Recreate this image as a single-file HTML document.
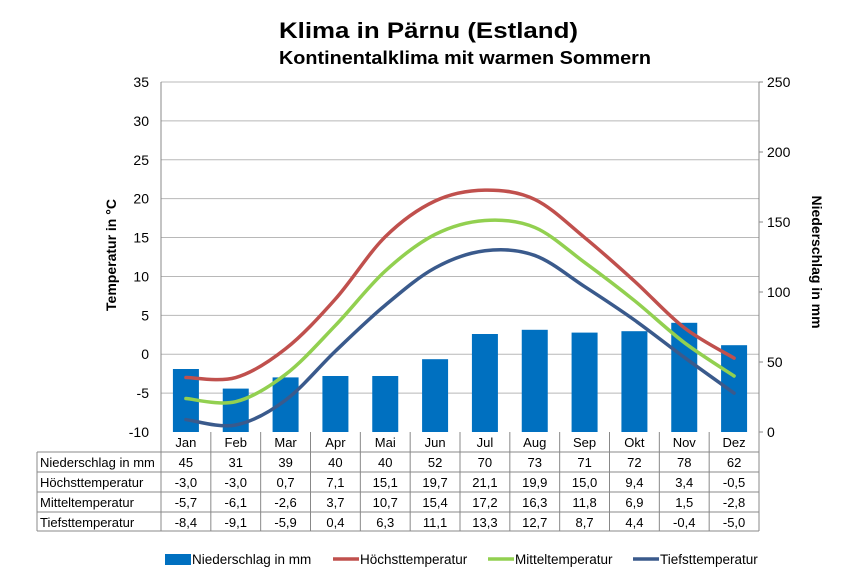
<!DOCTYPE html>
<html><head><meta charset="utf-8"><style>body{margin:0;background:#fff}svg{display:block}</style></head><body>
<svg width="848" height="588" xmlns="http://www.w3.org/2000/svg" font-family="Liberation Sans, Arial, sans-serif">
<rect width="848" height="588" fill="#fff"/>
<text x="279" y="38" font-size="22" font-weight="bold" textLength="299" lengthAdjust="spacingAndGlyphs">Klima in Pärnu (Estland)</text>
<text x="279" y="64" font-size="18" font-weight="bold" textLength="372" lengthAdjust="spacingAndGlyphs">Kontinentalklima mit warmen Sommern</text>
<g id="grid" stroke="#b8b8b8" stroke-width="1"></g>
<g id="bars" fill="#0070c0"></g>
<g id="lines" fill="none" stroke-width="3.5" stroke-linecap="round"></g>
<g id="axes" stroke="#888" stroke-width="1"></g>
<g id="lab" font-size="14" fill="#000"></g>
<text transform="translate(116,255) rotate(-90)" text-anchor="middle" font-size="14" font-weight="bold">Temperatur in °C</text>
<text transform="translate(812,262) rotate(90)" text-anchor="middle" font-size="14" font-weight="bold">Niederschlag in mm</text>
<g id="tab" font-size="13"></g>
<g font-size="13.5">
<rect x="165" y="554" width="26" height="11" fill="#0070c0"/><text x="192" y="564">Niederschlag in mm</text>
<line x1="333" y1="559" x2="359" y2="559" stroke="#c0504d" stroke-width="3.5"/><text x="360" y="564">Höchsttemperatur</text>
<line x1="488" y1="559" x2="514" y2="559" stroke="#92d050" stroke-width="3.5"/><text x="515" y="564">Mitteltemperatur</text>
<line x1="633" y1="559" x2="659" y2="559" stroke="#3a5a8c" stroke-width="3.5"/><text x="660" y="564">Tiefsttemperatur</text>
</g>
</svg>
<script>
const ns="http://www.w3.org/2000/svg";
function el(p,t,a,txt){const e=document.createElementNS(ns,t);for(const k in a)e.setAttribute(k,a[k]);if(txt!=null)e.textContent=txt;document.getElementById(p).appendChild(e);return e;}
const L=161,R=759,T=82,B=432,cw=(R-L)/12;
const ty=t=>B-(t+10)*350/45, py=m=>B-m*1.4;
for(let t=-10;t<=35;t+=5){const y=ty(t);if(t>-10)el('grid','line',{x1:L,x2:R,y1:y,y2:y});el('lab','text',{x:149,y:y+5,'text-anchor':'end'},t);}
for(let m=0;m<=250;m+=50){const y=py(m);el('axes','line',{x1:R,x2:R+4,y1:y,y2:y});el('lab','text',{x:767,y:y+5},m);}
el('axes','line',{x1:L,x2:L,y1:T,y2:B});el('axes','line',{x1:R,x2:R,y1:T,y2:B});
const mon=["Jan","Feb","Mar","Apr","Mai","Jun","Jul","Aug","Sep","Okt","Nov","Dez"];
const P=[45,31,39,40,40,52,70,73,71,72,78,62];
const H=[-3.0,-3.0,0.7,7.1,15.1,19.7,21.1,19.9,15.0,9.4,3.4,-0.5];
const M=[-5.7,-6.1,-2.6,3.7,10.7,15.4,17.2,16.3,11.8,6.9,1.5,-2.8];
const Tf=[-8.4,-9.1,-5.9,0.4,6.3,11.1,13.3,12.7,8.7,4.4,-0.4,-5.0];
const cx=i=>L+cw*(i+0.5);
P.forEach((v,i)=>el('bars','rect',{x:cx(i)-13,y:py(v),width:26,height:B-py(v)}));
function path(d){const p=d.map((v,i)=>[cx(i),ty(v)]);let s=`M${p[0][0]},${p[0][1]}`;
for(let i=0;i<p.length-1;i++){const p0=p[Math.max(i-1,0)],p1=p[i],p2=p[i+1],p3=p[Math.min(i+2,p.length-1)];
s+=` C${p1[0]+(p2[0]-p0[0])/6},${p1[1]+(p2[1]-p0[1])/6} ${p2[0]-(p3[0]-p1[0])/6},${p2[1]-(p3[1]-p1[1])/6} ${p2[0]},${p2[1]}`;}return s;}
el('lines','path',{d:path(H),stroke:'#c0504d'});
el('lines','path',{d:path(M),stroke:'#92d050'});
el('lines','path',{d:path(Tf),stroke:'#3a5a8c'});
const rows=[["Niederschlag in mm",P.map(String)],["Höchsttemperatur",H],["Mitteltemperatur",M],["Tiefsttemperatur",Tf]];
const fmt=v=>typeof v==='string'?v:v.toFixed(1).replace('.',',');
const ys=[432,452,472,492,512,531];
const g='#888';
for(let i=0;i<=12;i++){const x=L+cw*i;el('tab','line',{x1:x,x2:x,y1:432,y2:531,stroke:g});}
el('tab','line',{x1:37,x2:37,y1:452,y2:531,stroke:g});
for(let r=1;r<ys.length;r++)el('tab','line',{x1:37,x2:R,y1:ys[r],y2:ys[r],stroke:g});
mon.forEach((m,i)=>el('tab','text',{x:cx(i),y:447,'text-anchor':'middle'},m));
rows.forEach((r,k)=>{const y=ys[k+1]+15;el('tab','text',{x:40,y:y},r[0]);r[1].forEach((v,i)=>el('tab','text',{x:cx(i),y:y,'text-anchor':'middle'},fmt(v)));});
</script>
</body></html>
